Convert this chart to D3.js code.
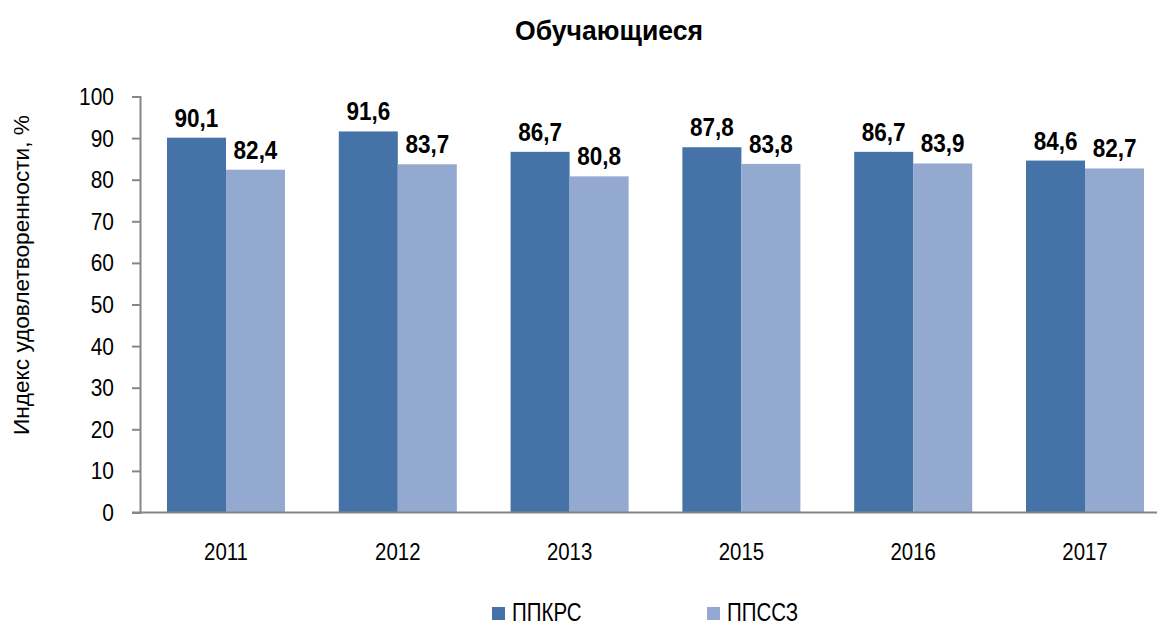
<!DOCTYPE html>
<html>
<head>
<meta charset="utf-8">
<script src="https://cdn.jsdelivr.net/npm/d3@7"></script>
<style>
  body { margin: 0; background: #fff; }
  svg { font-family: "Liberation Sans", Arial, sans-serif; }
  .axis path, .axis line { stroke: #868686; stroke-width: 2; }
  .axis text { font-size: 23px; fill: #000; }
</style>
</head>
<body>
<svg id="chart" width="1162" height="625"></svg>
<script>
const years = ["2011", "2012", "2013", "2015", "2016", "2017"];
const seriesNames = ["ППКРС", "ППССЗ"];
const ppkrs = [90.1, 91.6, 86.7, 87.8, 86.7, 84.6];
const ppssz = [82.4, 83.7, 80.8, 83.8, 83.9, 82.7];
const yTicks = [0, 10, 20, 30, 40, 50, 60, 70, 80, 90, 100];
const colors = ["#4572A7", "#93A9CF"];

const margin = { top: 96.5, left: 140, bottom: 512.5, right: 1171 };
const narrow = 0.9; // the original font is a bit condensed

const svg = d3.select("#chart");

const x = d3.scaleBand().domain(years).range([margin.left, margin.right]).paddingInner(0.313).paddingOuter(0.157);
const xs = d3.scaleBand().domain(seriesNames).range([0, x.bandwidth()]);
const y = d3.scaleLinear().domain([0, 100]).range([margin.bottom, margin.top]);

const fmt = v => v.toFixed(1).replace(".", ",");

// text squeezed horizontally around its anchor point
function squeezed(sel, px, py, s) {
  return sel.attr("x", 0).attr("y", 0)
    .attr("transform", (d, i) => `translate(${px(d, i)},${py(d, i)}) scale(${s},1)`);
}

// y axis
const yAxis = svg.append("g")
  .attr("class", "axis")
  .attr("transform", `translate(${margin.left},0)`)
  .call(d3.axisLeft(y).tickValues(yTicks).tickSize(8).tickSizeOuter(8).tickPadding(18).tickFormat(d3.format("d")));
yAxis.selectAll(".tick text")
  .attr("dy", "0.35em")
  .attr("x", 0)
  .attr("transform", "translate(-26,0) scale(0.91,1)");

// bars
const data = years.map((yr, i) => ({ year: yr, vals: [ppkrs[i], ppssz[i]] }));
const groups = svg.append("g").selectAll("g")
  .data(data).join("g")
  .attr("transform", d => `translate(${x(d.year)},0)`);

const cells = d => d.vals.map((v, k) => ({ name: seriesNames[k], v, k }));

groups.selectAll("rect")
  .data(cells)
  .join("rect")
  .attr("x", d => xs(d.name))
  .attr("width", xs.bandwidth())
  .attr("y", d => y(d.v))
  .attr("height", d => y(0) - y(d.v))
  .attr("fill", d => colors[d.k]);

groups.selectAll("text")
  .data(cells)
  .join("text")
  .attr("text-anchor", "middle")
  .attr("font-size", 25)
  .attr("font-weight", "bold")
  .call(squeezed, d => xs(d.name) + xs.bandwidth() / 2, d => y(d.v) - 11, narrow)
  .text(d => fmt(d.v));

// x axis line
svg.append("line")
  .attr("x1", margin.left - 8).attr("x2", 1157)
  .attr("y1", y(0)).attr("y2", y(0))
  .attr("stroke", "#868686").attr("stroke-width", 2);

// year labels
svg.append("g").selectAll("text")
  .data(years).join("text")
  .attr("text-anchor", "middle")
  .attr("font-size", 24)
  .call(squeezed, d => x(d) + x.bandwidth() / 2, () => 560, 0.85)
  .text(d => d);

// title
svg.append("text")
  .datum("Обучающиеся")
  .attr("text-anchor", "middle")
  .attr("font-size", 28).attr("font-weight", "bold")
  .call(squeezed, () => 609, () => 40, 0.95)
  .text(d => d);

// y axis title
svg.append("text")
  .attr("transform", "translate(29,275) rotate(-90)")
  .attr("text-anchor", "middle")
  .attr("font-size", 22)
  .attr("textLength", 320)
  .attr("lengthAdjust", "spacingAndGlyphs")
  .text("Индекс удовлетворенности, %");

// legend
const legendX = [492, 707];
const legend = svg.append("g").selectAll("g")
  .data(seriesNames).join("g")
  .attr("transform", (d, i) => `translate(${legendX[i]},607)`);
legend.append("rect").attr("width", 13).attr("height", 13).attr("fill", (d, i) => colors[i]);
legend.append("text")
  .attr("font-size", 25)
  .call(squeezed, () => 20, () => 14, 0.82)
  .text(d => d);
</script>
</body>
</html>
